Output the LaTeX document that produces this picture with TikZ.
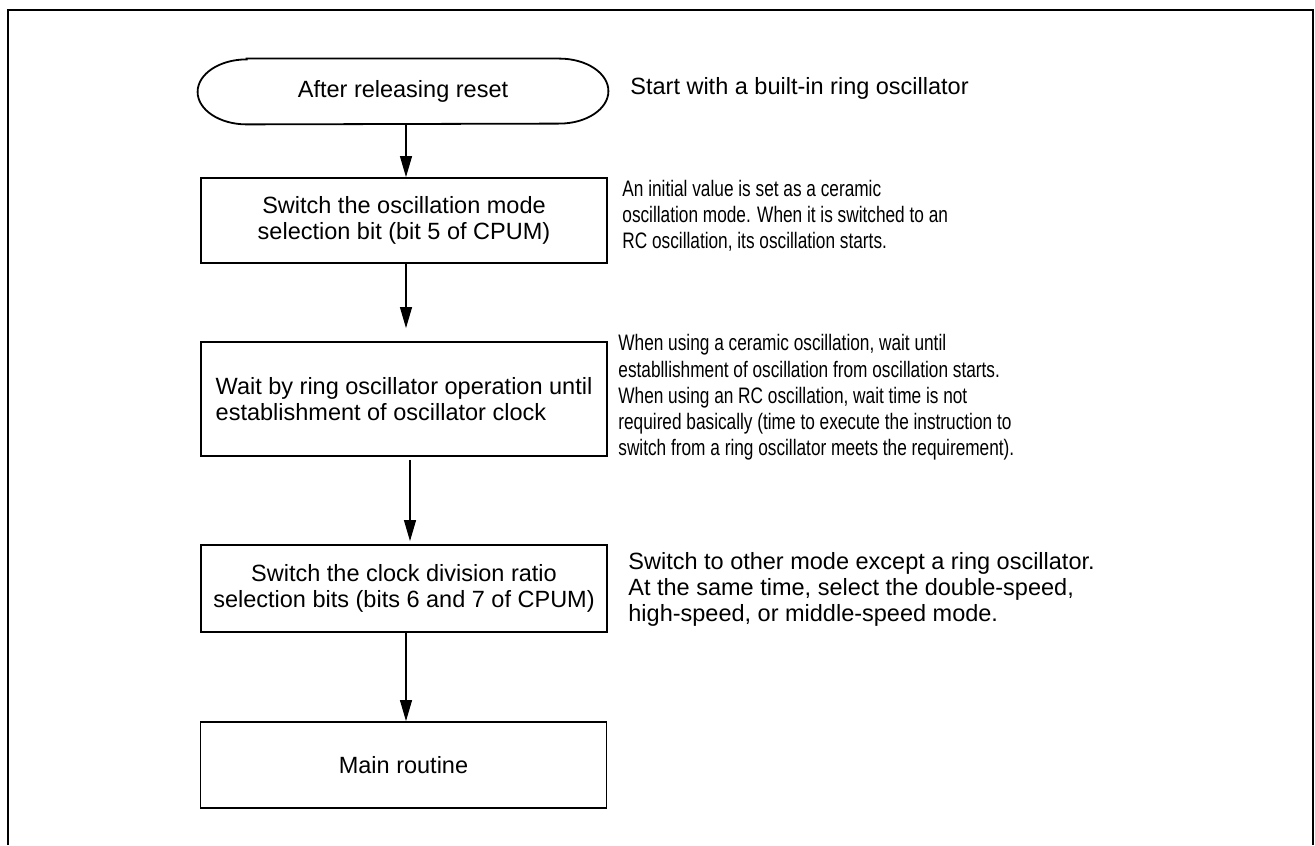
\documentclass[tikz,border=0pt]{standalone}
\usepackage{fontspec}
\setmainfont{Liberation Sans}
\newfontfamily\narrowfont{Liberation Sans}[FakeStretch=0.77]
\usetikzlibrary{arrows.meta}

\begin{document}
\begin{tikzpicture}[x=0.5pt, y=-0.5pt,
		box/.style={draw, line width=0.9pt, minimum width=203pt, align=center, inner sep=0pt,
			font=\fontsize{11.75pt}{13pt}\selectfont},
		note/.style={anchor=west, align=left, inner sep=0pt, font=\fontsize{11.75pt}{13pt}\selectfont},
		narrownote/.style={note, font=\narrowfont\fontsize{11.2pt}{13.1pt}\selectfont},
		flow/.style={-{Triangle[length=10.5pt,width=6pt]}, line width=0.6pt}]
		\useasboundingbox (0,0) rectangle (1315,845);
		\draw [line width=1.2pt] (8,845) -- (8,10) -- (1313,10) -- (1313,845);

		% terminal with elliptic ends
		\node (start) [minimum width=205pt, minimum height=32.5pt, inner sep=0pt,
			font=\fontsize{11.75pt}{13pt}\selectfont] at (403,91.5) {After releasing reset};
		\draw [line width=0.9pt] ([xshift=24.5pt]start.north west) -- ([xshift=-24.5pt]start.north east)
			arc [start angle=90, end angle=-90, x radius=24.5pt, y radius=16.25pt]
			-- ([xshift=24.5pt]start.south west)
			arc [start angle=270, end angle=90, x radius=24.5pt, y radius=16.25pt] -- cycle;

		\node (sw1) [box, minimum height=42.5pt] at (404,220.5) {Switch the oscillation mode\\selection bit (bit 5 of CPUM)};
		\node (wait) [box, minimum height=57pt, align=left] at (404,399) {Wait by ring oscillator operation until\\establishment of oscillator clock};
		\node (sw2) [box, minimum height=43.5pt] at (404,588.5) {Switch the clock division ratio\\selection bits (bits 6 and 7 of CPUM)};
		\node (main) [box, minimum height=43pt] at (403.5,765) {Main routine};

		\draw [flow] ([xshift=1.5pt]start.south) -- ([xshift=1pt]sw1.north);
		\draw [flow, shorten >=6.5pt] ([xshift=1pt]sw1.south) -- ([xshift=1pt]wait.north);
		\draw [flow, shorten <=1.5pt, shorten >=1.5pt] ([xshift=3pt]wait.south) -- ([xshift=3pt]sw2.north);
		\draw [flow] ([xshift=1pt]sw2.south) -- ([xshift=1.25pt]main.north);

		% remarks
		\node (n1) [note] at (630,88) {Start with a built-in ring oscillator};
		\node (n2) [narrownote] at (622,216) {An initial value is set as a ceramic\\oscillation mode. When it is switched to an\\RC oscillation, its oscillation starts.};
		\node (n3) [narrownote] at (618,397.5) {When using a ceramic oscillation, wait until\\establlishment of oscillation from oscillation starts.\\When using an RC oscillation, wait time is not\\required basically (time to execute the instruction to\\switch from a ring oscillator meets the requirement).};
		\node (n4) [note] at (628,589) {Switch to other mode except a ring oscillator.\\At the same time, select the double-speed,\\high-speed, or middle-speed mode.};
	\end{tikzpicture}
\end{document}
